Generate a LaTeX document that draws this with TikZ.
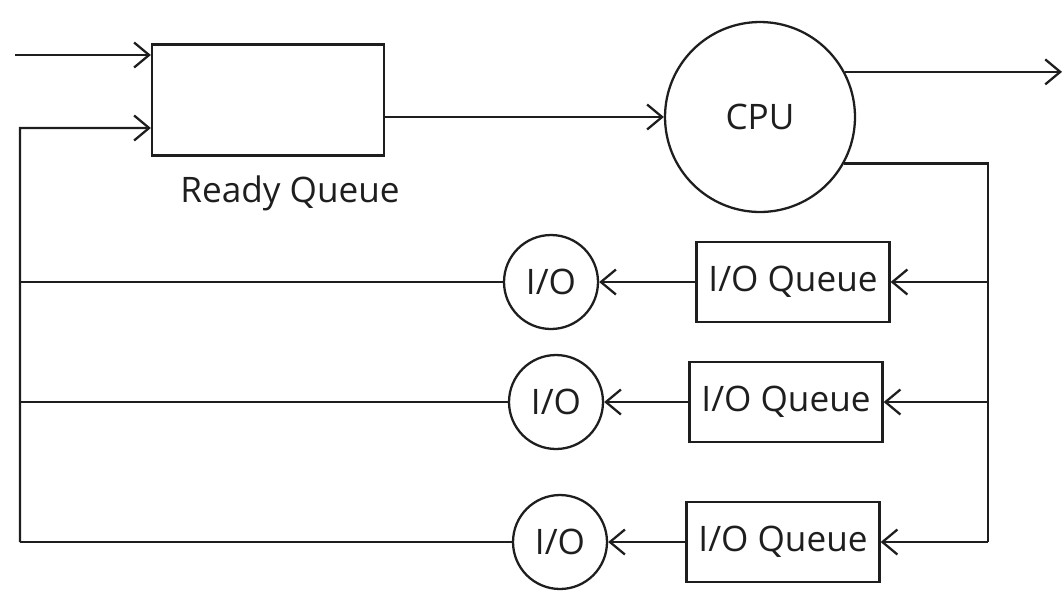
\documentclass[tikz,border=0pt]{standalone}
\usepackage{fontspec}
\setmainfont{Open Sans}
\usepackage{tikz}
\usetikzlibrary{positioning,arrows.meta}
\definecolor{ink}{HTML}{1E1E1E}

\begin{document}
\begin{tikzpicture}[x=0.02cm,y=-0.02cm,font=\fontsize{20}{24}\selectfont,line width=1.3pt,draw=ink,
  >={Straight Barb[length=3mm,width=5mm]},
  queue/.style={draw=ink,text=ink,minimum width=3.86cm,minimum height=1.6cm,inner sep=0},
  dev/.style={draw=ink,text=ink,circle,minimum size=1.88cm,inner sep=0}]
  \useasboundingbox (0,0) rectangle (1064,596);
  \node[draw=ink,minimum width=4.64cm,minimum height=2.22cm,inner sep=0] (rq) at (268,100){};
  \node[text=ink] (rqlab) at (290,193) {Ready Queue};
  \node[dev,minimum size=3.8cm] (cpu) at (760,117) {CPU};
  \coordinate (in) at (15,55);
  \coordinate (out) at (1062,0);
  \coordinate (lt) at (20,0);
  \coordinate (rt) at (988,0);
  % ready queue -> cpu -> out
  \draw[->] (in) -- (in -| rq.west);
  \draw[->] (cpu.west -| rq.east) -- (cpu.west);
  \draw[->] (cpu.28) -- (cpu.28 -| out);
  % i/o rows
  \def\row#1#2#3#4{
    \node[queue] (q#4) at (#2,#1) {I/O Queue};
    \node[dev] (io#4) at (#3,#1) {I/O};
    \draw[->] (q#4.west) -- (io#4.east);
    \draw[->] (q#4.east -| rt) -- (q#4.east);
    \draw (io#4.west) -- (io#4.west -| lt);}
  \row{282}{793}{551}{1}
  \row{402}{786}{556}{2}
  \row{542}{783}{560}{3}
  % feedback lines
  \draw (cpu.-29) -| (q3.east -| rt);
  \draw[->] (io3.west -| lt) -- (lt |- 0,128) -- ([yshift=-0.56cm]rq.west);
\end{tikzpicture}
\end{document}
